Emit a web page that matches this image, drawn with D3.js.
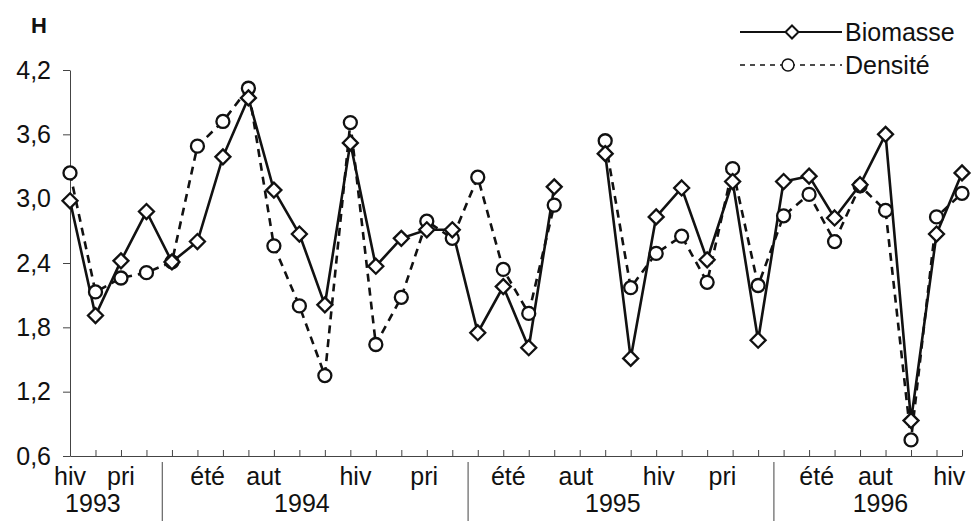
<!DOCTYPE html>
<html>
<head>
<meta charset="utf-8">
<script src="https://cdn.jsdelivr.net/npm/d3@7"></script>
<style>
  body { margin: 0; background: #fff; }
  text { font-family: "Liberation Sans", Arial, sans-serif; fill: #111; }
  .axis path, .axis line { stroke: #444; stroke-width: 1; }
</style>
</head>
<body>
<div id="chart"></div>
<script>

// Values (index = sampling date, null = no sample)
var biomasse = [2.98, 1.91, 2.42, 2.88, 2.41, 2.60, 3.39, 3.94, 3.08, 2.67, 2.01, 3.52,
                2.37, 2.63, 2.71, 2.71, 1.75, 2.18, 1.61, 3.11, null, 3.42, 1.51, 2.83,
                3.10, 2.43, 3.16, 1.68, 3.16, 3.21, 2.82, 3.13, 3.60, 0.93, 2.67, 3.24];
var densite  = [3.24, 2.13, 2.26, 2.31, 2.41, 3.49, 3.72, 4.03, 2.56, 2.00, 1.35, 3.71,
                1.64, 2.08, 2.79, 2.63, 3.20, 2.34, 1.93, 2.94, null, 3.54, 2.17, 2.49,
                2.65, 2.22, 3.28, 2.19, 2.84, 3.04, 2.60, 3.12, 2.89, 0.75, 2.83, 3.05];

var seasons   = ["hiv", "pri", "été", "aut", "hiv", "pri", "été", "aut", "hiv", "pri", "été", "aut", "hiv"];
var seasonPos = [0, 2, 5.4, 7.6, 11.2, 13.9, 17.2, 19.85, 23.1, 25.6, 29.3, 31.6, 34.5];
var years     = ["1993", "1994", "1995", "1996"];
var yearPos   = [0.9, 9.1, 21.3, 31.8];
var yearBreaks = [3.62, 15.62, 27.62];
var yTicks    = [0.6, 1.2, 1.8, 2.4, 3.0, 3.6, 4.2];

var width = 973, height = 521;

var svg = d3.select("#chart")
    .append("svg")
    .attr("width", width)
    .attr("height", height);

var xScale = d3.scaleLinear()
    .domain([0, biomasse.length - 1])
    .range([70, 962]);

var yScale = d3.scaleLinear()
    .domain([0.6, 4.2])
    .range([456, 70]);

var fmt = function(d){ return d3.format(".1f")(d).replace(".", ","); };

// axes
svg.append("g")
    .attr("class", "axis")
    .attr("transform", "translate(70,0)")
    .call(d3.axisLeft(yScale).tickValues(yTicks).tickFormat(fmt)
        .tickSizeInner(7).tickSizeOuter(0).tickPadding(12))
    .call(function(g){
        g.selectAll("text").style("font-size", "25px").attr("fill", "#111");
    });

svg.append("g")
    .attr("class", "axis")
    .attr("transform", "translate(0," + yScale(0.6) + ")")
    .call(d3.axisBottom(xScale).tickValues(d3.range(biomasse.length)).tickFormat("")
        .tickSizeInner(-6).tickSizeOuter(0));

// season labels
svg.selectAll(".season")
    .data(seasons).enter()
    .append("text")
    .attr("class", "season")
    .attr("x", function(d, i){ return xScale(seasonPos[i]); })
    .attr("y", 485)
    .attr("text-anchor", "middle")
    .style("font-size", "25px")
    .text(function(d){ return d; });

svg.selectAll(".year")
    .data(years).enter()
    .append("text")
    .attr("class", "year")
    .attr("x", function(d, i){ return xScale(yearPos[i]); })
    .attr("y", 512)
    .attr("text-anchor", "middle")
    .style("font-size", "25px")
    .text(function(d){ return d; });

svg.selectAll(".yearbreak")
    .data(yearBreaks).enter()
    .append("line")
    .attr("x1", function(d){ return xScale(d); })
    .attr("x2", function(d){ return xScale(d); })
    .attr("y1", 462)
    .attr("y2", 521)
    .attr("stroke", "#444")
    .attr("stroke-width", 1);

// "H" title
svg.append("text")
    .attr("x", 31)
    .attr("y", 33)
    .style("font-size", "22px")
    .style("font-weight", "bold")
    .text("H");

// lines
var line = d3.line()
    .defined(function(d){ return d !== null; })
    .x(function(d, i){ return xScale(i); })
    .y(function(d){ return yScale(d); });

svg.append("path")
    .datum(densite)
    .attr("fill", "none")
    .attr("stroke", "#111")
    .attr("stroke-width", 2.6)
    .attr("stroke-dasharray", "8,6")
    .attr("d", line);

svg.append("path")
    .datum(biomasse)
    .attr("fill", "none")
    .attr("stroke", "#111")
    .attr("stroke-width", 2.6)
    .attr("d", line);

var diamond = "M0,-7.5L7.5,0L0,7.5L-7.5,0Z";

// markers
svg.selectAll(".circ")
    .data(densite.map(function(d, i){ return {v: d, i: i}; })
        .filter(function(d){ return d.v !== null; }))
    .enter()
    .append("circle")
    .attr("class", "circ")
    .attr("cx", function(d){ return xScale(d.i); })
    .attr("cy", function(d){ return yScale(d.v); })
    .attr("r", 6.5)
    .attr("fill", "#fff")
    .attr("stroke", "#111")
    .attr("stroke-width", 2.3);

svg.selectAll(".diam")
    .data(biomasse.map(function(d, i){ return {v: d, i: i}; })
        .filter(function(d){ return d.v !== null; }))
    .enter()
    .append("path")
    .attr("class", "diam")
    .attr("d", diamond)
    .attr("transform", function(d){ return "translate(" + xScale(d.i) + "," + yScale(d.v) + ")"; })
    .attr("fill", "#fff")
    .attr("stroke", "#111")
    .attr("stroke-width", 2.3);

// legend
var legend = svg.append("g");

legend.append("line")
    .attr("x1", 740).attr("x2", 842).attr("y1", 32).attr("y2", 32)
    .attr("stroke", "#111").attr("stroke-width", 2);
legend.append("path")
    .attr("d", "M0,-6.5L6.5,0L0,6.5L-6.5,0Z")
    .attr("transform", "translate(792,32)")
    .attr("fill", "#fff").attr("stroke", "#111").attr("stroke-width", 2);
legend.append("text")
    .attr("x", 845).attr("y", 41)
    .style("font-size", "25px")
    .text("Biomasse");

legend.append("line")
    .attr("x1", 740).attr("x2", 842).attr("y1", 65).attr("y2", 65)
    .attr("stroke", "#111").attr("stroke-width", 1.5)
    .attr("stroke-dasharray", "5,5");
legend.append("circle")
    .attr("cx", 788).attr("cy", 65).attr("r", 6)
    .attr("fill", "#fff").attr("stroke", "#111").attr("stroke-width", 1.5);
legend.append("text")
    .attr("x", 845).attr("y", 74)
    .style("font-size", "25px")
    .text("Densité");

</script>
</body>
</html>
